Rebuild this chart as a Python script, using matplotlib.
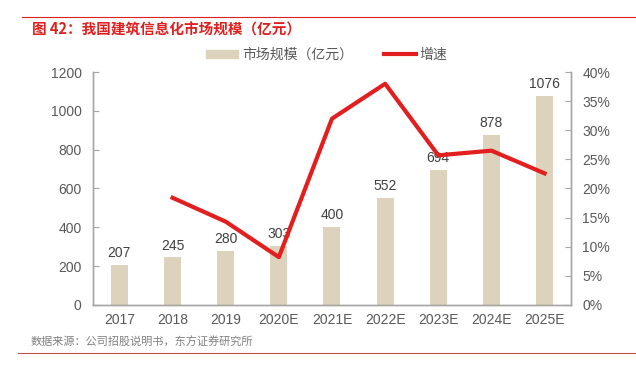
import matplotlib
matplotlib.use("Agg")
import matplotlib.pyplot as plt
from matplotlib.lines import Line2D
from matplotlib.patches import Patch

plt.rcParams['font.family'] = ['Liberation Sans', 'Noto Sans CJK SC', 'DejaVu Sans']

years = ['2017', '2018', '2019', '2020E', '2021E', '2022E', '2023E', '2024E', '2025E']
market = [207, 245, 280, 303, 400, 552, 694, 878, 1076]
growth = [None, 18.4, 14.3, 8.2, 32.0, 38.0, 25.7, 26.5, 22.6]

bar_color = '#DDD3BC'
line_color = '#E31E1E'
grey = '#595959'
axis_grey = '#A6A6A6'
cjk = ['Noto Sans CJK SC', 'DejaVu Sans']

fig = plt.figure(figsize=(6.36, 3.66), dpi=100)
ax = fig.add_axes([0.146, 0.167, 0.752, 0.636])
ax2 = ax.twinx()

x = list(range(len(years)))
ax.bar(x, market, width=0.32, color=bar_color, zorder=1)
for xi, v in zip(x, market):
    ax.text(xi, v + 25, str(v), ha='center', va='bottom', fontsize=10, color='#404040')

gx = [xi for xi, g in zip(x, growth) if g is not None]
gy = [g / 100 for g in growth if g is not None]
ax2.plot(gx, gy, color=line_color, lw=3, zorder=3)

ax.set_xlim(-0.5, len(years) - 0.5)
ax.set_ylim(0, 1200)
ax.set_yticks(range(0, 1201, 200))
ax2.set_ylim(0, 0.40)
ax2.set_yticks([i * 0.05 for i in range(9)])
ax2.set_yticklabels([f'{i * 5}%' for i in range(9)])
ax.set_xticks(x)
ax.set_xticklabels(years)

for a in (ax, ax2):
    a.spines['top'].set_visible(False)
    for s in ('left', 'right', 'bottom'):
        a.spines[s].set_color(axis_grey)
        a.spines[s].set_linewidth(1)
    a.tick_params(colors=grey, labelsize=10, length=4, direction='in', color=axis_grey)
ax.tick_params(axis='x', length=0, pad=6)
ax.tick_params(axis='y', pad=8)
ax2.tick_params(axis='y', pad=8)
ax2.set_zorder(ax.get_zorder() + 1)
ax2.patch.set_visible(False)

handles = [Patch(color=bar_color), Line2D([0], [0], color=line_color, lw=3)]
fig.legend(handles, ['市场规模（亿元）', '增速'], loc='center', bbox_to_anchor=(0.514, 0.85),
           ncol=2, frameon=False, prop={'family': cjk, 'size': 10}, labelcolor=grey,
           handlelength=2.3, handleheight=0.5, handletextpad=0.3, columnspacing=2.2)

fig.text(0.05, 0.918, '图 42：我国建筑信息化市场规模（亿元）', color='#E0201F',
         fontsize=10.5, fontweight='bold', va='center', family=cjk)
fig.add_artist(Line2D([0.035, 1.0], [0.953, 0.953], color='#E0201F', lw=0.8))
fig.text(0.048, 0.066, '数据来源：公司招股说明书，东方证券研究所', color='#808080',
         fontsize=8, va='center', family=cjk)
fig.add_artist(Line2D([0.028, 1.0], [0.036, 0.036], color='#C0504D', lw=0.8))

fig.savefig('out.png', dpi=100)
